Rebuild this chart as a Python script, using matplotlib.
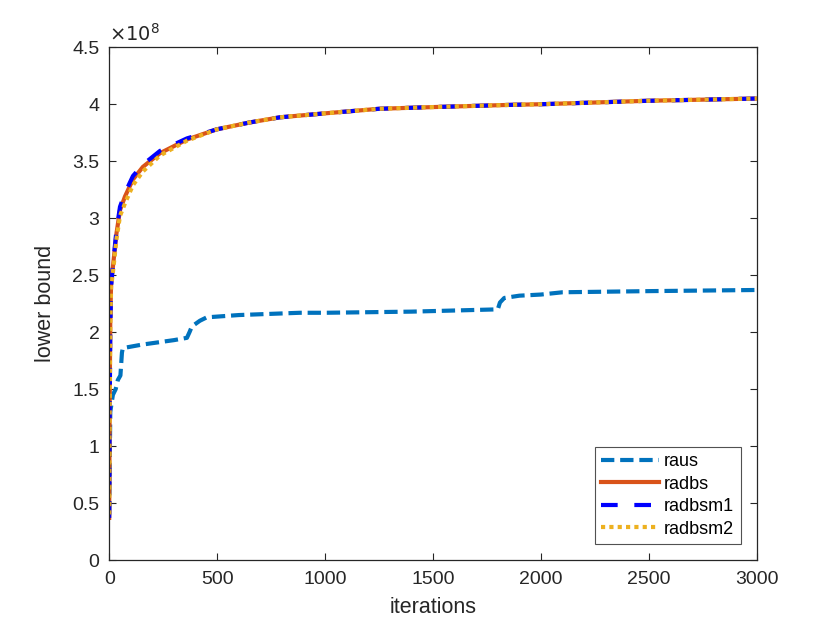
import matplotlib
matplotlib.use("Agg")
from matplotlib import pyplot as plt

plt.rcParams['font.family'] = ['Liberation Sans', 'DejaVu Sans']

# lower bound values, in units of 1e8
it_up = [0, 2, 5, 9, 17, 34, 50, 73, 110, 156, 235, 360, 499, 651, 790,
         1000, 1250, 1500, 1870, 2000, 2490, 3000]
radbs = [0.37, 1.3, 2.1, 2.45, 2.57, 2.87, 3.07, 3.19, 3.34, 3.45, 3.57, 3.69,
         3.78, 3.84, 3.885, 3.92, 3.96, 3.975, 3.995, 4.00, 4.03, 4.05]
radbsm1 = [0.37, 1.2, 2.0, 2.4, 2.58, 2.90, 3.10, 3.22, 3.37, 3.47, 3.59, 3.70,
           3.78, 3.84, 3.885, 3.92, 3.96, 3.975, 3.995, 4.00, 4.03, 4.05]
radbsm2 = [0.40, 1.25, 2.05, 2.4, 2.52, 2.82, 3.02, 3.13, 3.29, 3.41, 3.55, 3.68,
           3.78, 3.84, 3.885, 3.92, 3.96, 3.975, 3.995, 4.00, 4.03, 4.05]

it_raus = [0, 5, 17, 30, 40, 52, 59, 63, 150, 300, 360, 372, 383, 420, 452, 600,
           883, 1000, 1400, 1800, 1810, 1830, 1900, 2000, 2100, 2500, 3000]
raus = [0.40, 1.30, 1.45, 1.50, 1.58, 1.62, 1.82, 1.86, 1.89, 1.93, 1.95, 2.00,
        2.05, 2.10, 2.13, 2.15, 2.17, 2.17, 2.18, 2.20, 2.26, 2.30, 2.32, 2.33,
        2.35, 2.36, 2.37]

fig = plt.figure(figsize=(8.4, 6.3), dpi=100)
ax = fig.add_axes([0.130, 0.111, 0.771, 0.814])

ax.plot(it_raus, raus, color='#0072BD', lw=3, linestyle=(0, (3.2, 1.4)), label='raus')
ax.plot(it_up, radbs, color='#D95319', lw=3, label='radbs')
ax.plot(it_up, radbsm1, color='#0000FF', lw=3, linestyle=(0, (4, 4)), label='radbsm1')
ax.plot(it_up, radbsm2, color='#EDB120', lw=3, linestyle=(0, (1, 1)), label='radbsm2')

ax.set_xlim(0, 3000)
ax.set_ylim(0, 4.5)
ax.set_xticks(range(0, 3001, 500))
ax.set_yticks([0, 0.5, 1, 1.5, 2, 2.5, 3, 3.5, 4, 4.5])
ax.set_yticklabels(['0', '0.5', '1', '1.5', '2', '2.5', '3', '3.5', '4', '4.5'])
ax.tick_params(direction='in', top=True, right=True, labelsize=14, colors='#262626',
               length=5, width=0.8)
ax.tick_params(axis='x', pad=8)
ax.tick_params(axis='y', pad=7)
for s in ax.spines.values():
    s.set_color('#262626')
    s.set_linewidth(0.9)

ax.set_xlabel('iterations', fontsize=15.5, color='#262626', labelpad=6)
ax.set_ylabel('lower bound', fontsize=15.5, color='#262626', labelpad=12)
ax.text(0.0, 1.004, r'$\times10^8$', transform=ax.transAxes, fontsize=14,
        color='#262626', va='bottom', ha='left')

leg = ax.legend(loc='lower right', fontsize=13, frameon=True, fancybox=False,
                edgecolor='#262626', handlelength=3.2, handletextpad=0.3,
                borderaxespad=0.9, borderpad=0.35, labelspacing=0.3)
leg.get_frame().set_linewidth(0.8)

fig.savefig('out.png')
